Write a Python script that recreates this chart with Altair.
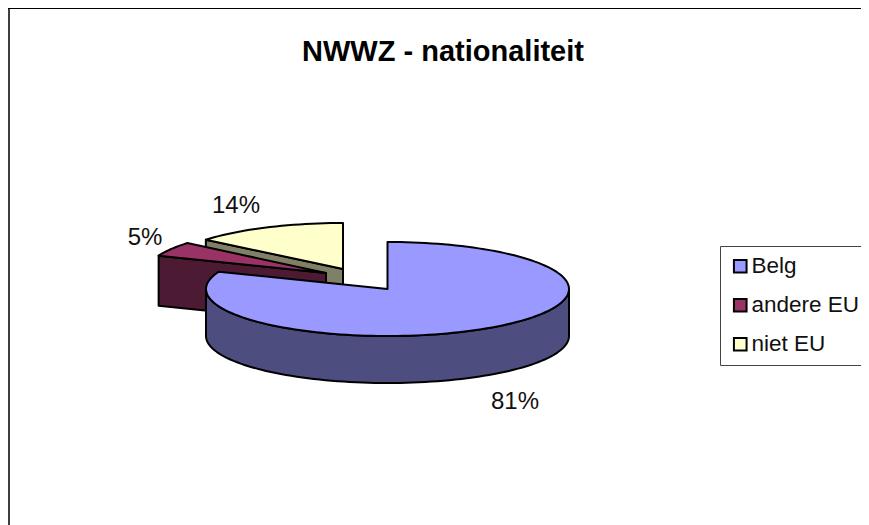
import math
import altair as alt

categories = ["Belg", "andere EU", "niet EU"]
shares = [81, 5, 14]
pct_labels = ["81%", "5%", "14%"]
title_text = "NWWZ - nationaliteit"
top_colors = ["#9999FF", "#993366", "#FFFFCC"]
side_colors = ["#4D4D80", "#4D1A33", "#808066"]

FONT = "Liberation Sans"
RX, RY = 181.5, 47
DEPTH = 47
# exploded centre of each slice on the page
centres = {"Belg": (387.5, 289), "andere EU": (326, 273), "niet EU": (343, 269)}


def rim(c, a0, a1, rx=RX, ry=RY, dy=0):
    n = max(2, int(abs(a1 - a0) / 2))
    out = []
    for i in range(n + 1):
        a = math.radians(a0 + (a1 - a0) * i / n)
        out.append([c[0] + rx * math.sin(a), c[1] - ry * math.cos(a) + dy])
    return out


def feature(part, ring):
    ring = ring + [ring[0]]
    return {"type": "Feature", "properties": {"part": part},
            "geometry": {"type": "Polygon", "coordinates": [ring]}}


total = sum(shares)
spans = {}
acc = 0
for name, s in zip(categories, shares):
    spans[name] = (acc * 360 / total, (acc + s) * 360 / total)
    acc += s

features = []
# back to front: niet EU, andere EU, Belg
c = centres["niet EU"]
a0, a1 = spans["niet EU"]
p = rim(c, a0, a0, rx=178, ry=46)[0]
features.append(feature("niet EU zijde", [c, p, [p[0], p[1] + DEPTH], [c[0], c[1] + DEPTH]]))
features.append(feature("niet EU", [c] + rim(c, a0, a1, rx=178, ry=46)))

c = centres["andere EU"]
a0, a1 = spans["andere EU"]
p = rim(c, a0, a0, rx=180)[0]
features.append(feature("andere EU zijde", [c, p, [p[0], p[1] + DEPTH + 3], [c[0], c[1] + DEPTH + 3]]))
features.append(feature("andere EU", [c] + rim(c, a0, a1, rx=180)))

c = centres["Belg"]
a0, a1 = spans["Belg"]
features.append(feature("Belg zijde", rim(c, 90, 270) + rim(c, 270, 90, dy=DEPTH)))
features.append(feature("Belg", [c] + rim(c, a0, a1)))

domain = categories + [n + " zijde" for n in categories]
rng = top_colors + side_colors
proj = {"type": "identity", "scale": 1, "translate": [-8, -8]}

pie = alt.Chart(alt.Data(values=features)).mark_geoshape(
    stroke="black", strokeWidth=2, strokeJoin="round"
).encode(
    fill=alt.Fill(
        "properties.part:N",
        scale=alt.Scale(domain=domain, range=rng),
        legend=alt.Legend(
            title=None, orient="none", legendX=712, legendY=238, values=categories,
            symbolType="square", symbolSize=160, symbolStrokeColor="black", symbolStrokeWidth=2,
            labelFont=FONT, labelFontSize=22.5, labelColor="#111111", labelLimit=300,
            rowPadding=16, padding=9, fillColor="white", strokeColor="#444444",
            cornerRadius=0, symbolOffset=0, labelOffset=0,
        ),
    ),
    tooltip=alt.value(None),
).project(**proj)

pct_x = [515, 145, 236]
pct_y = [402, 238, 206]
labels = alt.Chart(alt.Data(values=[
    {"t": t, "lon": x, "lat": y} for t, x, y in zip(pct_labels, pct_x, pct_y)
])).mark_text(font=FONT, fontSize=24, color="#111111", baseline="middle", align="center").encode(
    longitude="lon:Q", latitude="lat:Q", text="t:N"
).project(**proj)

title = alt.Chart(alt.Data(values=[{"t": title_text, "lon": 443, "lat": 52}])).mark_text(
    font=FONT, fontSize=29, fontWeight="bold", color="black", baseline="middle", align="center"
).encode(longitude="lon:Q", latitude="lat:Q", text="t:N").project(**proj)

frame_left = alt.Chart(alt.Data(values=[{"a": 0}])).mark_rule(color="#404040", strokeWidth=2).encode(
    x=alt.value(1), y=alt.value(0), y2=alt.value(517))
frame_top = alt.Chart(alt.Data(values=[{"a": 0}])).mark_rule(color="#000000", strokeWidth=1).encode(
    y=alt.value(0.5), x=alt.value(0), x2=alt.value(853))

chart = alt.layer(frame_left, frame_top, pie, labels, title).properties(
    width=853, height=517, padding=0, autosize=alt.AutoSizeParams(type="none"),
    background="white",
).configure_view(stroke=None)

chart.save("out.html", embed_options={"renderer": "svg", "actions": False})
